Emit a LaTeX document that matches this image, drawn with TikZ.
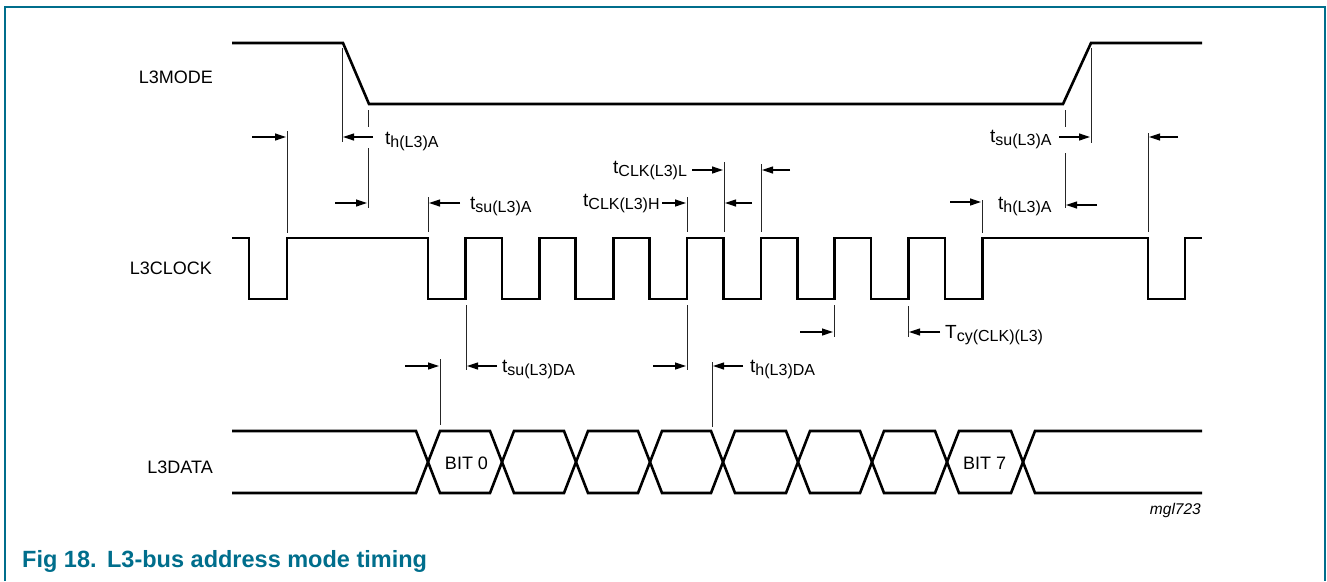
\documentclass[tikz,border=0pt]{standalone}
\usepackage{fontspec}
\setmainfont{Liberation Sans}
\usetikzlibrary{arrows.meta}
\definecolor{nxpteal}{RGB}{0,110,140}
\newcommand\tsub[2]{#1\raisebox{-3pt}{\fontsize{16}{16}\selectfont #2}}
\begin{document}
\begin{tikzpicture}[x=1pt,y=-1pt,
  sig/.style={line width=2.6pt, line join=miter},
  dim/.style={line width=0.9pt, black!85},
  arr/.style={line width=1.2pt, -{Triangle[length=11pt,width=7pt]}},
  lab/.style={inner sep=0pt, anchor=base east, font=\fontsize{18}{20}\selectfont},
  tl/.style={inner sep=0pt, anchor=base west, font=\fontsize{19}{20}\selectfont},
  bit/.style={inner sep=0pt, anchor=base, font=\fontsize{18}{20}\selectfont}]
\useasboundingbox (0,0) rectangle (1327,581);
% frame
\draw[nxpteal, line width=2pt] (5,581) -- (5,7) -- (1325,7) -- (1325,581);
% signal names
\node[lab] (mode) at (213,83) {L3MODE};
\node[lab] (clock) at (212,274) {L3CLOCK};
\node[lab] (data) at (213,473) {L3DATA};
% L3MODE
\draw[sig] (232,43) -- (343,43) -- (369,104) -- (1063,104) -- (1091,43) -- (1202,43);
% L3CLOCK
\draw[sig] (232,238) -- (249,238) -- (249,299) -- (287,299) -- (287,238)
  \foreach \k in {0,...,7} { -- ({428+73.85*\k},238) -- ({428+73.85*\k},299) -- ({465.5+73.85*\k},299) -- ({465.5+73.85*\k},238) }
  -- (1148,238) -- (1148,299) -- (1185,299) -- (1185,238) -- (1202,238);
% L3DATA
\draw[sig] (232,431) -- (416,431) -- (440,493) -- (490,493) -- (514,431) -- (564,431) -- (588,493) -- (638,493) -- (662,431) -- (711,431) -- (735,493) -- (786,493) -- (810,431) -- (860,431) -- (884,493) -- (935,493) -- (959,431) -- (1011,431) -- (1035,493) -- (1202,493);
\draw[sig] (232,493) -- (416,493) -- (440,431) -- (490,431) -- (514,493) -- (564,493) -- (588,431) -- (638,431) -- (662,493) -- (711,493) -- (735,431) -- (786,431) -- (810,493) -- (860,493) -- (884,431) -- (935,431) -- (959,493) -- (1011,493) -- (1035,431) -- (1202,431);
\node[bit] (b0) at (466.5,469) {BIT 0};
\node[bit] (b7) at (984.5,469) {BIT 7};
% dimension lines
\draw[dim] (287,131) -- (287,233);
\draw[arr] (252,137) -- (286,137);
\draw[dim] (342,48) -- (342,142);
\draw[arr] (373,137) -- (343,137);
\draw[dim] (368,110) -- (368,127);
\draw[dim] (368,148) -- (368,208);
\draw[arr] (335,203) -- (367,203);
\node[tl] (thA1) at (385,144) {\tsub{t}{h(L3)A}};
\draw[dim] (428,197) -- (428,232);
\draw[arr] (460,203) -- (429,203);
\node[tl] (tsuA1) at (470,209) {\tsub{t}{su(L3)A}};
\draw[dim] (724,162) -- (724,232);
\draw[arr] (692,170) -- (723,170);
\node[tl] (tclkL) at (613,173) {\tsub{t}{CLK(L3)L}};
\draw[dim] (761,164) -- (761,232);
\draw[arr] (790,170) -- (762,170);
\draw[dim] (687,197) -- (687,232);
\draw[arr] (662,203) -- (686,203);
\node[tl] (tclkH) at (583,206) {\tsub{t}{CLK(L3)H}};
\draw[arr] (752,203) -- (725,203);
\draw[dim] (1065,110) -- (1065,127);
\draw[dim] (1065,153) -- (1065,208);
\draw[arr] (1097,205) -- (1066,205);
\draw[dim] (1091,48) -- (1091,143);
\draw[arr] (1059,137) -- (1090,137);
\node[tl] (tsuA2) at (990,142) {\tsub{t}{su(L3)A}};
\draw[dim] (1148,133) -- (1148,232);
\draw[arr] (1178,137) -- (1149,137);
\draw[dim] (982,200) -- (982,233);
\draw[arr] (950,202) -- (981,202);
\node[tl] (thA2) at (998,209) {\tsub{t}{h(L3)A}};
\draw[dim] (440,359) -- (440,425);
\draw[arr] (405,366) -- (439,366);
\draw[dim] (466,305) -- (466,370);
\draw[arr] (497,366) -- (467,366);
\node[tl] (tsuDA) at (502,372) {\tsub{t}{su(L3)DA}};
\draw[dim] (687,305) -- (687,370);
\draw[arr] (653,366) -- (686,366);
\draw[dim] (712,362) -- (712,427);
\draw[arr] (743,366) -- (713,366);
\node[tl] (thDA) at (750,372) {\tsub{t}{h(L3)DA}};
\draw[dim] (834,305) -- (834,337);
\draw[arr] (800,332) -- (833,332);
\draw[dim] (908,306) -- (908,337);
\draw[arr] (940,332) -- (909,332);
\node[tl] (tcy) at (945,338) {\tsub{T}{cy(CLK)(L3)}};
% code and caption
\node[inner sep=0pt, anchor=base east, font=\itshape\fontsize{15.5}{16}\selectfont] (code) at (1201,514) {mgl723};
\node[inner sep=0pt, anchor=base west, text=nxpteal, font=\bfseries\fontsize{23.5}{26}\selectfont] (cap) at (22,567) {Fig 18.\hspace{10.5pt}L3-bus address mode timing};
\end{tikzpicture}
\end{document}
